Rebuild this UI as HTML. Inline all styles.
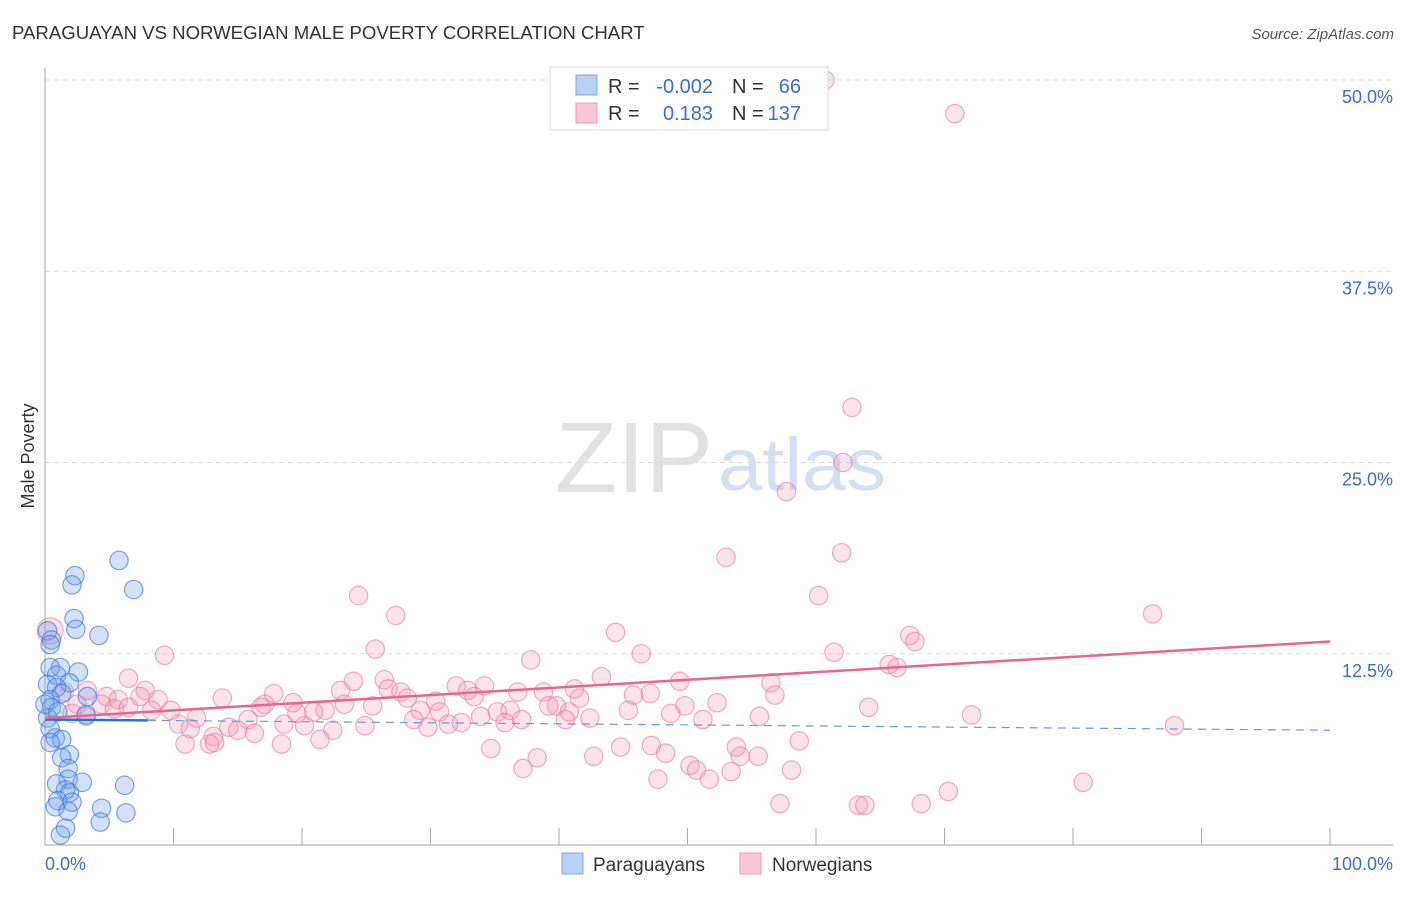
<!DOCTYPE html>
<html><head><meta charset="utf-8"><style>
body{margin:0;background:#fff;font-family:"Liberation Sans",sans-serif;}
svg text{font-family:"Liberation Sans",sans-serif;}
</style></head><body>
<svg id="c" width="1406" height="892">
<text x="12" y="39" font-size="18.6" fill="#333">PARAGUAYAN VS NORWEGIAN MALE POVERTY CORRELATION CHART</text>
<text x="1394" y="39" font-size="15" fill="#555" font-style="italic" text-anchor="end">Source: ZipAtlas.com</text>
<text x="713" y="492" font-size="100" fill="#e2e2e2" font-family="Liberation Serif" text-anchor="end" textLength="158" lengthAdjust="spacingAndGlyphs">ZIP</text>
<text x="718" y="490" font-size="74" fill="#d3e0f4" textLength="168" lengthAdjust="spacingAndGlyphs">atlas</text>
<text x="34" y="456" font-size="18" fill="#333" text-anchor="middle" transform="rotate(-90 34 456)">Male Poverty</text>
<g id="grid"></g><g id="pts"></g><g id="trend"></g>
<g>
<rect x="550" y="67" width="278" height="63" fill="#fff" stroke="#ddd"/>
<rect x="576" y="75" width="21" height="20" fill="#b8d0f3" stroke="#7fa8e6"/>
<rect x="576" y="103" width="21" height="20" fill="#f8c6d5" stroke="#ee9ab5"/>
<text x="608" y="93" font-size="20" fill="#333">R = </text><text x="713" y="93" font-size="20" fill="#3a6fd0" text-anchor="end">-0.002</text>
<text x="732" y="93" font-size="20" fill="#333">N = </text><text x="801" y="93" font-size="20" fill="#3a6fd0" text-anchor="end">66</text>
<text x="608" y="120" font-size="20" fill="#333">R = </text><text x="713" y="120" font-size="20" fill="#3a6fd0" text-anchor="end">0.183</text>
<text x="732" y="120" font-size="20" fill="#333">N = </text><text x="801" y="120" font-size="20" fill="#3a6fd0" text-anchor="end">137</text>
</g>
<g>
<rect x="562" y="853" width="21" height="21" fill="#b8d0f3" stroke="#7fa8e6"/>
<text x="593" y="871" font-size="19" fill="#333">Paraguayans</text>
<rect x="740" y="853" width="21" height="21" fill="#f8c6d5" stroke="#ee9ab5"/>
<text x="772" y="871" font-size="19" fill="#333">Norwegians</text>
</g>
</svg>
<script>
const yTicks=[12.5,25,37.5,50];
const yTickLabels=["12.5%","25.0%","37.5%","50.0%"];
const xTickLabels=["0.0%","100.0%"];
const paraX=[5.76,2.33,2.1,6.9,2.26,2.4,4.2,0.2,0.5,0.4,1.2,2.6,0.4,0.9,1.9,0.2,0.9,3.3,0.4,0.5,3.2,0.2,0.4,0.8,1.3,0.4,1.9,1.3,1.8,1.8,2.9,6.2,0.9,1.6,1.9,1.0,2.1,0.8,4.4,1.8,6.3,4.3,1.6,1.2,1.3,0,1.0];
const paraY=[18.6,17.6,17.0,16.7,14.8,14.1,13.7,14.0,13.4,13.1,11.6,11.3,11.6,11.1,10.6,10.5,10.3,9.7,9.5,9.0,8.5,8.3,7.6,7.0,6.9,6.7,5.9,5.7,5.0,4.3,4.1,3.9,4.0,3.6,3.4,2.9,2.8,2.5,2.4,2.2,2.1,1.5,1.1,0.65,9.9,9.2,8.7];
const norX=[60.7,70.8,62.8,62.1,57.7,53.0,62.0,24.4,60.2,86.2,27.3,44.4,67.3,67.7,0.4,25.7,46.4,61.4,9.3,37.8,65.7,66.3,43.3,6.5,26.4,49.4,56.5,24.0,32.0,34.2,32.9,41.2,23.0,26.7,27.7,36.8,38.8,47.1,45.8,56.8,7.8,17.8,3.3,4.8,5.7,8.8,13.8,28.2,41.6,33.4,30.4,19.3,52.3,7.4,23.3,25.5,17.1,4.4,5.4,39.8,39.2,49.8,16.8,8.3,9.8,21.8,20.9,29.2,36.2,45.4,64.1,19.6,35.2,40.8,72.1,2.1,3.2,48.7,55.6,33.9,30.7,11.8,28.7,42.4,51.2,15.8,10.4,18.6,20.2,24.9,29.8,31.4,32.4,35.8,37.1,40.5,87.9,11.3,14.3,22.4,15.0,16.3,13.1,21.4,58.7,10.9,12.8,18.4,13.2,47.2,44.8,53.8,34.7,48.3,54.1,55.5,42.7,38.3,50.2,50.7,37.2,53.4,58.1,51.7,47.7,80.8,70.3,57.2,63.3,63.8,68.2,6.5,1.5,2.5];
const norY=[50.0,47.8,28.6,25.0,23.1,18.8,19.1,16.3,16.3,15.1,15.0,13.9,13.7,13.3,14.0,12.8,12.5,12.6,12.4,12.1,11.8,11.6,11.0,10.9,10.8,10.7,10.6,10.7,10.4,10.4,10.1,10.2,10.1,10.2,10.0,10.0,10.0,9.9,9.8,9.8,10.1,9.9,10.1,9.7,9.5,9.5,9.6,9.6,9.6,9.7,9.4,9.3,9.3,9.7,9.2,9.1,9.2,9.2,8.9,9.1,9.1,9.1,9.0,8.8,8.8,8.8,8.7,8.8,8.8,8.8,9.0,8.6,8.7,8.7,8.5,8.6,8.4,8.6,8.4,8.4,8.7,8.3,8.2,8.3,8.2,8.2,7.9,7.9,7.8,7.8,7.7,7.9,8.0,8.0,8.2,8.2,7.8,7.6,7.7,7.5,7.5,7.3,7.1,6.9,6.8,6.6,6.6,6.6,6.7,6.5,6.4,6.4,6.3,6.0,5.8,5.8,5.8,5.7,5.2,4.9,5.0,4.8,4.9,4.3,4.3,4.1,3.5,2.7,2.6,2.6,2.7,9.0,10.0,9.2];
const paraTrend=[8.2,7.5];
const norTrend=[8.3,13.3];
const NS="http://www.w3.org/2000/svg";
const X=v=>45+v*12.85, Y=v=>845-v*15.3;
function mk(p,t,a){const e=document.createElementNS(NS,t);for(const k in a)e.setAttribute(k,a[k]);p.appendChild(e);return e;}
const g=document.getElementById('grid');
yTicks.forEach((t,i)=>{
 const l=mk(g,'line',{x1:45,x2:1393,y1:Y(t),y2:Y(t),stroke:'#ddd','stroke-dasharray':'5,4'});
 
 
 const tx=mk(g,'text',{x:1393,y:Y(t)+23,'font-size':18,fill:'#3a6fd0','text-anchor':'end'});tx.textContent=yTickLabels[i];
 
 
});
mk(g,'line',{x1:45,x2:45,y1:68,y2:845,stroke:'#aaa'});
mk(g,'line',{x1:45,x2:1393,y1:845,y2:845,stroke:'#aaa'});
for(let i=1;i<=10;i++){const t=mk(g,'line',{x1:X(i*10),x2:X(i*10),y1:828,y2:845,stroke:'#aaa'});
 
 }
const a=mk(g,'text',{x:45,y:870,'font-size':18,fill:'#3a6fd0'});a.textContent=xTickLabels[0];


const b=mk(g,'text',{x:1393,y:870,'font-size':18,fill:'#3a6fd0','text-anchor':'end'});b.textContent=xTickLabels[1];


const P=document.getElementById('pts');
norX.forEach((x,i)=>{const c=mk(P,'circle',{cx:X(x),cy:Y(norY[i]),r:i==14?13:9.2,fill:'rgba(244,150,180,0.28)',stroke:'rgba(232,120,160,0.6)','stroke-width':1.2});
 
 });
paraX.forEach((x,i)=>{const c=mk(P,'circle',{cx:X(x),cy:Y(paraY[i]),r:9.2,fill:'rgba(110,160,235,0.3)',stroke:'rgba(60,120,215,0.65)','stroke-width':1.2});
 
 });
const T=document.getElementById('trend');
const py=x=>paraTrend[0]+(paraTrend[1]-paraTrend[0])*x/100;
const l1=mk(T,'line',{x1:X(0),x2:X(8),y1:Y(py(0)),y2:Y(py(8)),stroke:'#2f6fd6','stroke-width':2.5});


const l2=mk(T,'line',{x1:X(8),x2:X(100),y1:Y(py(8)),y2:Y(py(100)),stroke:'#6a9be0','stroke-width':1.2,'stroke-dasharray':'8,6'});


const l3=mk(T,'line',{x1:X(0),x2:X(100),y1:Y(norTrend[0]),y2:Y(norTrend[1]),stroke:'#e8668f','stroke-width':2.5});


</script>
</body></html>
